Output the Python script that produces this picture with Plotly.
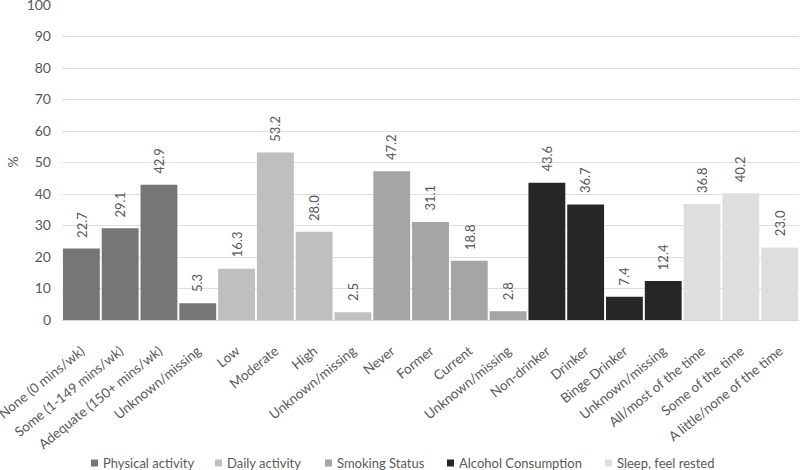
import plotly.graph_objects as go

categories = ["None (0 mins/wk)", "Some (1-149 mins/wk)", "Adequate (150+ mins/wk)", "Unknown/missing",
              "Low", "Moderate", "High", "Unknown/missing",
              "Never", "Former", "Current", "Unknown/missing",
              "Non-drinker", "Drinker", "Binge Drinker", "Unknown/missing",
              "All/most of the time", "Some of the time", "A little/none of the time"]

series_names = ["Physical activity", "Daily activity", "Smoking Status", "Alcohol Consumption", "Sleep, feel rested"]
physical = [22.7, 29.1, 42.9, 5.3]
daily = [16.3, 53.2, 28.0, 2.5]
smoking = [47.2, 31.1, 18.8, 2.8]
alcohol = [43.6, 36.7, 7.4, 12.4]
sleep = [36.8, 40.2, 23.0]
colors = ["#767676", "#bfbfbf", "#a5a5a5", "#262626", "#dedede"]

y_ticks = list(range(0, 101, 10))
y_title = "%"

FONT = "Lato, 'Open Sans', sans-serif"
TXT = "#595959"

W, H = 800, 470
ML, MR, MT, MB = 62, 1, 5, 150
PW, PH = W - ML - MR, H - MT - MB

fig = go.Figure()
start = 0
for name, vals, col in zip(series_names, [physical, daily, smoking, alcohol, sleep], colors):
    xs = list(range(start, start + len(vals)))
    start += len(vals)
    fig.add_trace(go.Bar(
        x=xs, y=vals, name=name, width=0.95,
        marker=dict(color=col, line=dict(width=0)),
        showlegend=False,
    ))
    for xi, v in zip(xs, vals):
        fig.add_annotation(x=xi, y=v, xref="x", yref="y", text=f"{v:.1f}",
                           showarrow=False, textangle=-90, yanchor="bottom", xanchor="center",
                           yshift=9, font=dict(size=13, color=TXT, family=FONT))

# legend (drawn below the axis, Excel style)
legend_x = [91, 215, 325, 447, 605]
legend_y = 463
for name, col, lx in zip(series_names, colors, legend_x):
    fig.add_shape(type="rect", xref="paper", yref="paper",
                  x0=(lx - ML) / PW, x1=(lx + 7 - ML) / PW,
                  y0=(H - MB - (legend_y + 3.5)) / PH, y1=(H - MB - (legend_y - 3.5)) / PH,
                  fillcolor=col, line=dict(width=0))
    fig.add_annotation(xref="paper", yref="paper",
                       x=(lx + 10 - ML) / PW, y=(H - MB - legend_y) / PH,
                       text=name, showarrow=False, xanchor="left", yanchor="middle",
                       font=dict(size=13, color=TXT, family=FONT))

# y-axis title
fig.add_annotation(xref="paper", yref="paper", x=(12 - ML) / PW, y=0.5, text=y_title,
                   showarrow=False, textangle=-90, xanchor="center", yanchor="middle",
                   font=dict(size=14, color=TXT, family=FONT))

fig.update_layout(
    width=W, height=H,
    margin=dict(l=ML, r=MR, t=MT, b=MB),
    paper_bgcolor="white", plot_bgcolor="white",
    barmode="overlay",
    font=dict(family=FONT, size=13, color=TXT),
    showlegend=False,
    xaxis=dict(range=[-0.5, len(categories) - 0.5], tickmode="array",
               tickvals=list(range(len(categories))), ticktext=categories,
               tickangle=-39, tickfont=dict(size=13.5, color=TXT, family=FONT),
               showline=True, linecolor="#d9d9d9", linewidth=1, showgrid=False, ticks="",
               ticklabelstandoff=17,
               automargin=False, ticklabeloverflow="allow"),
    yaxis=dict(range=[0, 100], tickvals=y_ticks, showgrid=True, gridcolor="#dedede",
               gridwidth=1, zeroline=False, tickfont=dict(size=14, color=TXT, family=FONT),
               ticks="", ticklabelstandoff=10, automargin=False, ticklabeloverflow="allow"),
)

fig.write_html("out.html", config={"displayModeBar": False},
               post_script="document.body.style.margin='0';document.body.style.overflow='hidden';")
